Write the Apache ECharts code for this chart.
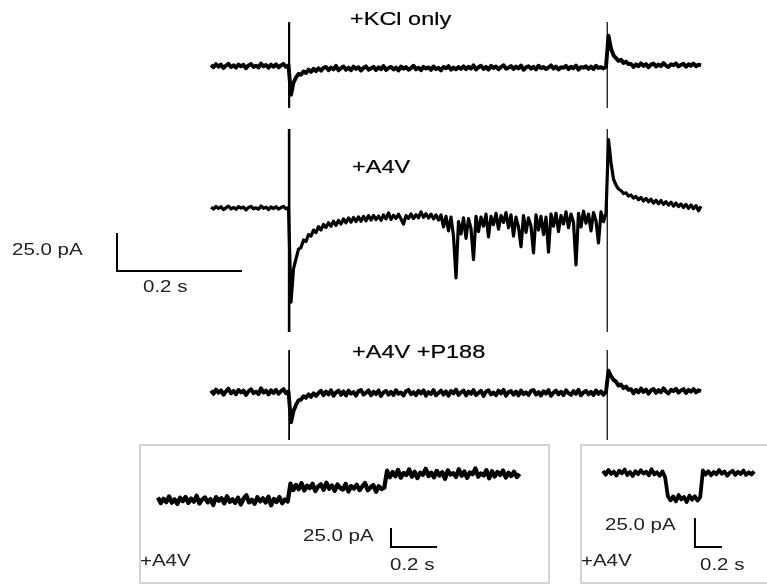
<!DOCTYPE html>
<html>
<head>
<meta charset="utf-8">
<script src="https://cdn.jsdelivr.net/npm/echarts/dist/echarts.min.js"></script>
<style>
  html, body { margin: 0; padding: 0; background: #fff; }
  #chart { width: 767px; height: 584px; }
</style>
</head>
<body>
<div id="chart"></div>
<script>
// ---------------- DATA ----------------
// Sampling of the main sweeps (s)
const mainDt = 0.004;
const pulseTimes = [0.125, 0.634];          // KCl pulse on / off (s)

// Trace labels
const traceLabels = ['+KCl only', '+A4V', '+A4V +P188'];
const insetLabel = '+A4V';
const scaleBarCurrent = 25.0;                // pA
const scaleBarTime = 0.2;                    // s
const scaleCurrentText = '25.0 pA';
const scaleTimeText = '0.2 s';

// Current (pA, relative to pre-pulse baseline), sampled every mainDt
const kclTrace = [
  0.6,-0.8,1.2,-0.4,0.9,-1.3,0.3,1.5,-0.7,0.5,-1.1,1.0,-0.2,0.8,-1.5,0.4,1.3,-0.6,0.2,-1.0,1.6,-0.3,0.7,-1.2,0.9,-0.5,1.1,-0.9,0.4,1.4,-0.6,0.3,
  -19,-11,-7.5,-5.2,-5.8,-3.6,-4.6,-2.4,-3.9,-1.8,-3.4,-1.5,-3.0,-1.2,
  -0.6,-2.7,-1.0,-2.2,0.1,-2.9,-1.4,-0.3,-2.5,-1.1,
  -2.8,-0.4,-1.9,-0.8,-3.0,-1.2,-0.2,-2.4,-1.6,-0.5,
  -2.6,-0.9,-2.1,0.0,-2.7,-1.3,-0.6,-2.3,-1.0,-2.9,
  -0.4,-1.8,-0.7,-2.5,-1.4,0.2,-2.2,-1.1,-2.8,-0.5,
  -1.7,-0.9,-2.6,-0.3,-2.0,-1.2,-2.9,-0.6,-1.5,-0.1,
  -2.4,-1.0,-2.2,-0.7,-1.9,
  -0.2,-2.1,-0.5,-1.7,0.4,-2.3,-0.8,0.2,-1.9,-0.6,
  -2.4,0.1,-1.3,-0.3,-2.2,-0.7,0.5,-1.8,-1.1,0.0,
  -2.0,-0.4,-1.6,0.3,-2.5,-0.9,-0.1,-1.8,-0.5,-2.2,
  0.2,-1.4,-0.6,-2.0,-1.0,0.4,-1.7,-0.3,-2.3,-0.8,
  -1.2,0.1,-2.1,-0.5,-1.5,0.3,-2.4,-0.7,-1.1,-0.2,
  -1.9,-0.4,-2.0,0.2,-1.3,-0.8,-1.6,-0.5,
  20,11.5,7,5.2,3.4,4.1,2.0,2.9,1.3,
  1.4,-0.6,1.1,-0.2,1.8,0.0,1.3,-0.8,0.9,1.6,
  -0.4,1.0,-0.1,1.9,0.3,-0.7,1.2,0.5,1.7,-0.3,
  0.8,1.5,-0.5,1.1,0.2,1.6,-0.2,0.9,0.4
];
const a4vTrace = [
  0.5,-0.7,1.0,-0.3,0.8,-1.1,0.2,1.2,-0.6,0.4,-0.9,0.9,-0.1,0.6,-1.2,0.3,1.1,-0.5,0.1,-0.8,1.3,-0.2,0.6,-1.0,0.7,-0.4,0.9,-0.7,0.3,1.1,-0.5,0.2,
  -62,-40,-33.5,-27,-26,-21,-22,-17.5,-18.5,-14.5,
  -16.2,-12.3,-14.5,-10.8,-12.9,-9.6,-12.0,-8.7,-11.4,-8.1,
  -10.6,-7.2,-9.8,-6.5,-9.3,-6.2,-8.9,-5.8,-8.7,-5.5,
  -8.4,-5.0,-7.9,-4.9,-7.6,-5.3,-8.1,-4.6,-7.2,-3.2,
  -7.5,-4.8,-6.9,-4.1,-7.3,-10.5,-5.0,-6.8,-3.9,-7.0,
  -4.4,-6.5,-2.6,-6.2,-3.8,-6.6,-4.0,-7.1,-4.5,-8.0,
  -4.5,-12.5,-5.5,-15.0,-6.0,-18.5,-46,-9.0,-17.0,-6.5,
  -20.0,-7.0,-13.5,-34,-5.5,-15.5,-6.0,-12.0,-4.0,-19.0,
  -5.5,-11.0,-3.5,-14.0,-5.0,-9.5,-3.0,-13.0,-4.5,-18.5,
  -6.0,-12.5,-25.5,-5.0,-16.0,-6.5,-12.0,-29.5,-4.5,-14.5,
  -5.5,-17.5,-6.0,-29,-4.0,-12.0,-3.5,-15.5,-5.0,-10.5,
  -2.5,-13.0,-4.0,-9.5,-37.5,-3.5,-12.5,-2.0,-10.0,-4.0,
  -15.0,-3.0,-8.5,-23,-2.5,-9.0,-3.5,
  45,30,19,15,12.5,11.5,9.5,10,7.8,8.6,
  6.5,7.6,5.4,7.0,4.6,6.3,4.0,5.8,3.2,5.1,
  2.8,4.9,2.3,4.2,1.9,3.8,1.2,3.3,0.9,2.7,
  0.3,2.4,-0.2,2.0,-0.5,1.6,-1.8,1.1
];
const p188Trace = [
  0.9,-1.2,1.6,-0.5,1.1,-1.8,0.4,2.2,-0.9,0.7,-1.5,1.3,-0.3,1.0,-2.0,0.5,1.8,-0.8,0.3,-1.4,2.4,-0.4,0.9,-1.6,1.2,-0.7,1.5,-1.2,0.5,1.9,-0.8,0.4,
  -20,-12.5,-8.5,-5.5,-5.0,-2.8,-3.8,-1.6,-3.2,-0.9,-2.6,-0.6,
  0.8,-2.1,0.3,-1.6,1.2,-2.5,-0.2,1.0,-1.9,0.4,
  -2.3,0.9,-1.1,-0.1,-2.4,0.6,1.3,-1.7,-0.5,1.1,
  -2.2,0.2,-1.4,1.0,-2.6,-0.3,0.7,-1.8,0.1,-2.0,
  1.2,-1.2,-0.4,-2.3,0.5,1.4,-1.5,-0.1,-2.1,0.8,
  -1.0,1.1,-2.4,0.0,-1.3,1.3,-2.2,-0.6,0.9,-1.7,
  0.4,-2.5,0.7,-0.9,1.5,-1.9,-0.2,1.0,-2.3,0.3,
  -1.2,1.2,-2.0,-0.5,0.8,-2.6,0.2,1.1,-1.6,-0.3,
  -2.1,0.9,-1.0,1.4,-2.4,-0.1,0.6,-1.8,0.3,-2.2,
  1.0,-1.4,-0.2,-2.0,0.7,1.3,-1.7,0.0,-2.3,0.5,
  -1.1,1.2,-2.5,-0.4,0.9,-1.5,0.2,-2.1,1.1,-0.8,
  -1.9,0.6,-1.2,1.4,-2.2,-0.3,0.8,-1.6,0.1,-2.0,
  1.0,-1.3,0.4,-1.8,0.2,
  14,10.5,8.0,6.8,4.2,4.9,2.5,3.6,1.4,
  1.9,-0.9,1.4,-0.3,2.3,0.0,1.6,-1.1,1.1,2.0,
  -0.6,1.3,-0.2,2.4,0.4,-1.0,1.5,0.6,2.1,-0.4,
  1.0,1.9,-0.7,1.4,0.2,2.0,-0.3,1.1,0.5
];
// Capacitive transients at pulse on / off: [upper peak, lower peak] (pA)
const kclTransients  = [[28.9, -27.6], [28.9, -27.6]];
const a4vTransients  = [[52.0, -81.6], [52.0, -81.6]];
const p188Transients = [[27.6, -31.6], [27.6, -31.6]];

// Inset 1: stepwise channel openings (+A4V)
const inset1Dt = 0.012;
const inset1Trace = [
  3.2,-4.1,1.5,-2.8,4.6,-3.5,0.8,-5.2,2.9,-1.4,
  4.0,-3.8,1.9,-2.2,5.5,-4.6,0.5,3.4,-3.0,1.2,
  -6.5,3.8,-1.0,2.4,-4.4,4.9,-2.5,0.9,-3.7,3.0,
  -5.8,1.7,6.2,-3.1,0.3,-4.8,3.6,-1.8,2.2,-3.3,
  4.4,-7.0,1.4,-2.6,3.9,-4.2,0.7,-2.0,
  21.5,13.0,19.8,14.2,22.0,12.5,18.9,15.6,21.2,11.8,
  17.5,20.6,13.4,22.8,14.9,19.2,12.1,20.4,16.0,13.7,
  21.0,11.2,18.3,15.1,20.0,13.0,17.8,22.4,12.9,16.5,
  19.6,10.8,18.0,14.4,16.2,
  38.5,30.0,36.8,31.2,39.6,29.4,35.5,32.8,40.2,30.6,
  37.1,28.9,36.0,33.3,41.0,31.5,35.9,29.8,38.2,32.1,
  36.6,27.8,39.0,33.6,35.2,30.4,40.5,31.9,37.4,29.1,
  36.3,34.0,41.5,30.8,35.0,32.4,39.3,28.6,37.8,31.0,
  36.9,33.0,38.7,29.5,35.7,31.6,37.2,30.2,34.5
];
// Inset 2: transient closure (+A4V)
const inset2Dt = 0.02;
const inset2Trace = [
  1.8,-1.5,2.6,-0.8,1.2,-2.2,2.0,-0.3,3.0,-1.8,
  0.9,-2.6,1.6,-1.0,2.4,-0.5,1.1,-2.0,3.2,-1.2,
  0.6,-2.4,1.4,-3.5,
  -19.8,-23.6,-20.2,-24.5,-19.0,-22.8,-20.6,-25.0,-19.5,-23.0,-20.0,-23.8,-21.0,
  2.2,-1.4,1.5,-2.0,0.8,-1.1,2.5,-0.6,1.3,-2.3,
  0.4,1.9,-1.6,1.0,-0.9,2.1,-1.7,0.6,-1.2,1.4
];

// ---------------- BUILD ----------------
const sampled = (vals, dt) => vals.map((v, i) => [i * dt, v]);
const onsetOnly = (peaks, k) => [[pulseTimes[k], peaks[k][0]], [pulseTimes[k], peaks[k][1]]];
const scaleBar = (t0, i0) => [[t0, i0 + scaleBarCurrent], [t0, i0], [t0 + scaleBarTime, i0]];

const PX_PA_MAIN = 1.52;
function mainGrid(baselineY, minPA, maxPA) {
  return { left: 86, width: 625, top: baselineY - maxPA * PX_PA_MAIN, height: (maxPA - minPA) * PX_PA_MAIN };
}
const grids = [
  mainGrid(66, -30, 30),
  mainGrid(208, -85, 55),
  mainGrid(392, -32, 30),
  { left: 158, width: 368, top: 500 - 50 * 0.76, height: 120 * 0.76 },
  { left: 603, width: 162, top: 473 - 20 * 1.16, height: 90 * 1.16 }
];
const xRanges = [[-0.2, 0.8], [-0.2, 0.8], [-0.2, 0.8], [0, 1.6], [0, 1.2]];
const yRanges = [[-30, 30], [-85, 55], [-32, 30], [-70, 50], [-70, 20]];

const xAxes = xRanges.map((r, i) => ({ type: 'value', gridIndex: i, min: r[0], max: r[1], show: false }));
const yAxes = yRanges.map((r, i) => ({ type: 'value', gridIndex: i, min: r[0], max: r[1], show: false }));

function lineSeries(idx, data, width, join) {
  return {
    type: 'line', xAxisIndex: idx, yAxisIndex: idx, data: data,
    showSymbol: false, symbol: 'none', clip: false, silent: true, connectNulls: false,
    lineStyle: { color: '#000', width: width, join: join || 'miter', cap: 'butt' }, animation: false
  };
}

const series = [
  lineSeries(0, sampled(kclTrace, mainDt), 3.9, 'round'),
  lineSeries(1, sampled(a4vTrace, mainDt), 3.2, 'round'),
  lineSeries(2, sampled(p188Trace, mainDt), 3.9, 'round'),
  lineSeries(0, onsetOnly(kclTransients, 0), 2.2),
  lineSeries(0, onsetOnly(kclTransients, 1), 1.2),
  lineSeries(1, onsetOnly(a4vTransients, 0), 2.6),
  lineSeries(1, onsetOnly(a4vTransients, 1), 1.2),
  lineSeries(2, onsetOnly(p188Transients, 0), 1.8),
  lineSeries(2, onsetOnly(p188Transients, 1), 1.2),
  lineSeries(1, scaleBar(-0.1504, -41.5), 2),
  lineSeries(3, sampled(inset1Trace, inset1Dt), 4.3, 'round'),
  lineSeries(3, scaleBar(1.013, -61.8), 2),
  lineSeries(4, sampled(inset2Trace, inset2Dt), 3.8, 'round'),
  lineSeries(4, scaleBar(0.681, -63.8), 2)
];

function label(text, x, y, size, color, sx, strokeW) {
  const style = { text: text, font: size + 'px "Liberation Sans", Arial, sans-serif', fill: color,
                  align: 'left', verticalAlign: 'middle', textAlign: 'left', textVerticalAlign: 'middle' };
  if (strokeW) { style.stroke = color; style.lineWidth = strokeW; }
  return { type: 'text', x: x, y: y, scaleX: sx, scaleY: 1, z: 10, style: style };
}
const TITLE = 18.5, SMALL = 16, SC = 1.27, SC2 = 1.28;
const graphics = [
  { type: 'rect', z: 0, shape: { x: 140, y: 445, width: 409, height: 138 }, style: { fill: 'none', stroke: '#d3d3d3', lineWidth: 2 } },
  { type: 'rect', z: 0, shape: { x: 581, y: 445, width: 220, height: 138 }, style: { fill: 'none', stroke: '#d3d3d3', lineWidth: 2 } },
  label(traceLabels[0], 350, 20, TITLE, '#000', SC, 0.2),
  label(traceLabels[1], 352, 168, TITLE, '#000', SC, 0.2),
  label(traceLabels[2], 352, 353, TITLE, '#000', SC, 0.2),
  label(scaleCurrentText, 12, 251, SMALL, '#222', SC2),
  label(scaleTimeText, 143, 288, SMALL, '#222', SC2),
  label(scaleCurrentText, 303, 537, SMALL, '#222', SC2),
  label(scaleTimeText, 390, 566, SMALL, '#222', SC2),
  label(insetLabel, 140, 562, SMALL, '#222', SC2),
  label(scaleCurrentText, 605, 526, SMALL, '#222', SC2),
  label(scaleTimeText, 700, 566, SMALL, '#222', SC2),
  label(insetLabel, 581, 562, SMALL, '#222', SC2)
];

const chart = echarts.init(document.getElementById('chart'), null, { renderer: 'canvas' });
chart.setOption({
  animation: false,
  backgroundColor: '#fff',
  grid: grids,
  xAxis: xAxes,
  yAxis: yAxes,
  series: series,
  graphic: graphics
});
</script>
</body>
</html>
